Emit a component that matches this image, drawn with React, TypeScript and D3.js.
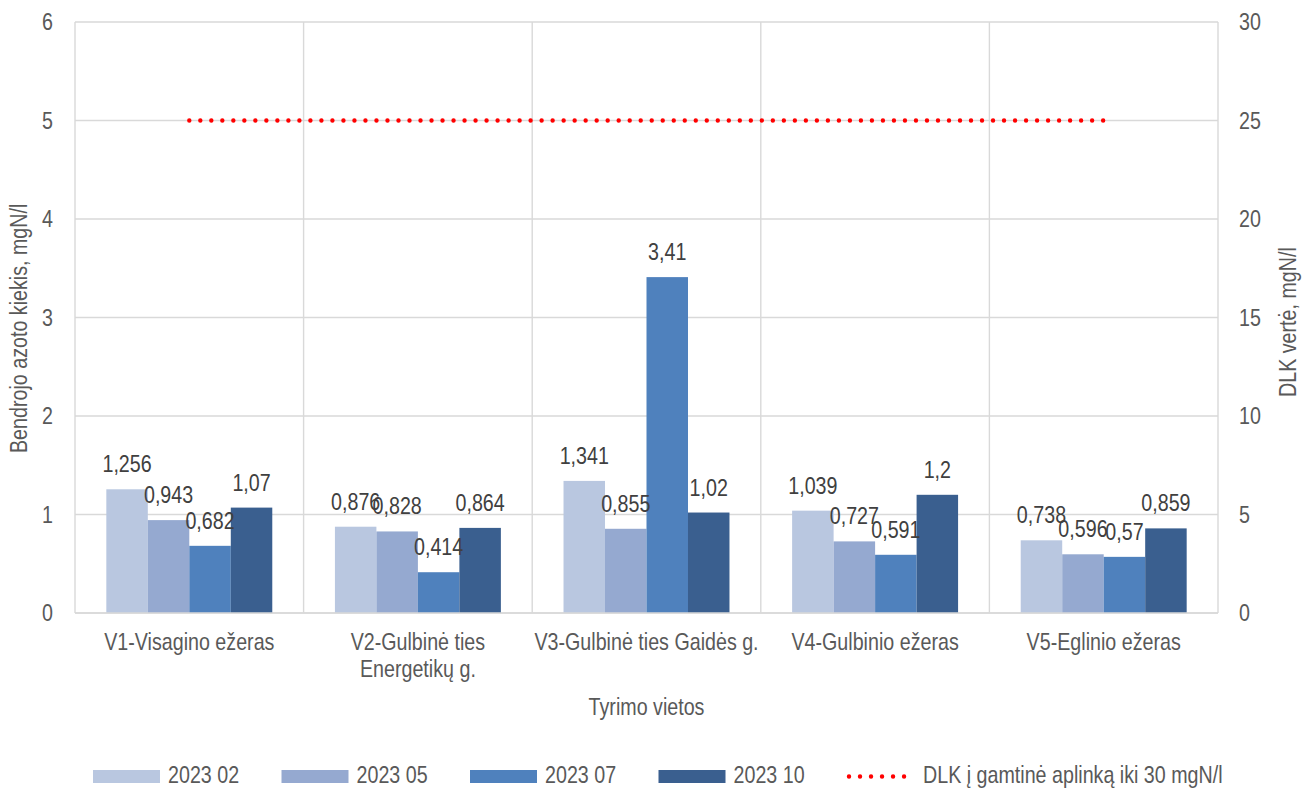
import React from 'react';
import * as d3 from 'd3';

// vietos ir matavimai
const places = [
  ['V1-Visagino ežeras'],
  ['V2-Gulbinė ties', 'Energetikų g.'],
  ['V3-Gulbinė ties Gaidės g.'],
  ['V4-Gulbinio ežeras'],
  ['V5-Eglinio ežeras'],
];
const seriesNames = ['2023 02', '2023 05', '2023 07', '2023 10'];
const seriesColors = ['#b9c7e0', '#95a9d0', '#4f81bd', '#3a5f8f'];
const s0202 = [1.256, 0.876, 1.341, 1.039, 0.738];
const s0205 = [0.943, 0.828, 0.855, 0.727, 0.596];
const s0207 = [0.682, 0.414, 3.41, 0.591, 0.57];
const s0210 = [1.07, 0.864, 1.02, 1.2, 0.859];
const dlk = [25, 25, 25, 25, 25];
const dlkName = 'DLK į gamtinė aplinką iki 30 mgN/l';
const leftTicks = [0, 1, 2, 3, 4, 5, 6];
const rightTicks = [0, 5, 10, 15, 20, 25, 30];

const W = 1308;
const H = 789;
// Arial Narrow nėra, todėl Liberation Sans suspaudžiam horizontaliai
const font = '"Liberation Sans", Arial, sans-serif';
const fs = 24;
const sx = 0.82;

function T(props: { x: number; y: number; anchor?: string; rot?: boolean; dy?: string; fill?: string; children: any }) {
  const { x, y, anchor, rot, dy, fill, children } = props;
  return (
    <text transform={`translate(${x},${y})${rot ? ' rotate(-90)' : ''} scale(${sx},1)`}
      textAnchor={anchor || 'start'} dy={dy} fill={fill}>
      {children}
    </text>
  );
}

export default function App() {
  const series = [s0202, s0205, s0207, s0210];
  const keys = places.map((p) => p.join(' '));

  const left = 75, right = 1218, top = 22, bottom = 613;

  const x0 = d3.scaleBand<string>().domain(keys).range([left, right]).padding(0);
  const x1 = d3.scaleBand<string>().domain(seriesNames)
    .range([0, x0.bandwidth()]).paddingInner(0).paddingOuter(0.755);
  const y = d3.scaleLinear().domain([0, 6]).range([bottom, top]);
  const y2 = d3.scaleLinear().domain([0, 30]).range([bottom, top]);

  const cat = (i: number) => (x0(keys[i]) as number) + x0.bandwidth() / 2;
  const line = d3.line<number>()
    .x((d, i) => cat(i))
    .y((d) => y2(d));

  const fmt = (v: number) => String(v).replace('.', ',');
  const legendStep = 188.5;
  const legendX = 93;

  return (
    <svg width={W} height={H} style={{ position: 'absolute', left: 0, top: 0, background: '#fff' }}
      fontFamily={font}>
      {/* tinklelis */}
      {leftTicks.map((t) => (
        <line key={'g' + t} x1={left} x2={right} y1={y(t)} y2={y(t)} stroke="#d9d9d9" strokeWidth={1.4} />
      ))}
      {keys.concat(['end']).map((k, i) => {
        const xx = i < keys.length ? (x0(k) as number) : right;
        return <line key={'v' + i} x1={xx} x2={xx} y1={top} y2={bottom} stroke="#d9d9d9" strokeWidth={1.4} />;
      })}

      {/* stulpeliai */}
      {series.map((vals, si) => (
        <g key={'s' + si} fill={seriesColors[si]}>
          {vals.map((v, ci) => {
            const bx = (x0(keys[ci]) as number) + (x1(seriesNames[si]) as number);
            return <rect key={ci} x={bx} y={y(v)} width={x1.bandwidth()} height={bottom - y(v)} />;
          })}
        </g>
      ))}
      <line x1={left} x2={right} y1={bottom} y2={bottom} stroke="#d9d9d9" strokeWidth={1.4} />

      {/* reikšmės */}
      {series.map((vals, si) => (
        <g key={'l' + si} fontSize={fs} fill="#404040">
          {vals.map((v, ci) => {
            const cx = (x0(keys[ci]) as number) + (x1(seriesNames[si]) as number) + x1.bandwidth() / 2;
            return <T key={ci} x={cx} y={y(v) - 17} anchor="middle">{fmt(v)}</T>;
          })}
        </g>
      ))}

      {/* DLK linija */}
      <path d={line(dlk) || ''} fill="none" stroke="#ff0000" strokeWidth={4.4}
        strokeLinecap="round" strokeDasharray="0.01 11" />

      {/* ašys */}
      <g fontSize={fs} fill="#595959">
        {leftTicks.map((t) => (
          <T key={'lt' + t} x={53} y={y(t)} dy="0.35em" anchor="end">{t}</T>
        ))}
        {rightTicks.map((t) => (
          <T key={'rt' + t} x={1239} y={y2(t)} dy="0.35em">{t}</T>
        ))}
        {places.map((p, ci) => p.map((ln, li) => (
          <T key={'x' + ci + '_' + li} x={cat(ci)} y={650 + li * 27} anchor="middle">{ln}</T>
        )))}
        <T x={(left + right) / 2} y={715} anchor="middle">Tyrimo vietos</T>
        <T x={27} y={453} rot>Bendrojo azoto kiekis, mgN/l</T>
        <T x={1296} y={397} rot>DLK vertė, mgN/l</T>
      </g>

      {/* legenda */}
      <g fontSize={fs} fill="#595959">
        {seriesNames.map((n, i) => (
          <g key={'lg' + i} transform={`translate(${legendX + i * legendStep},0)`}>
            <rect x={0} y={770} width={67} height={13} fill={seriesColors[i]} />
            <T x={75} y={783}>{n}</T>
          </g>
        ))}
        <g transform={`translate(${legendX + 4 * legendStep},0)`}>
          <line x1={2} x2={68} y1={776.5} y2={776.5} stroke="#ff0000" strokeWidth={4.4}
            strokeLinecap="round" strokeDasharray="0.01 11" />
          <T x={76} y={783}>{dlkName}</T>
        </g>
      </g>
    </svg>
  );
}
